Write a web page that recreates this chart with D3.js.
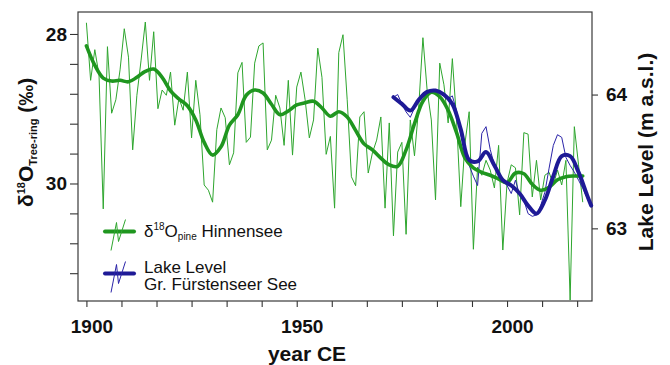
<!DOCTYPE html>
<html>
<head>
<meta charset="utf-8">
<script src="https://cdn.jsdelivr.net/npm/d3@7"></script>
<style>
  body { margin: 0; background: #fff; }
  svg { font-family: "Liberation Sans", Arial, Helvetica, sans-serif; }
</style>
</head>
<body>
<div id="chart"></div>
<script>
// annual tree-ring d18O, Hinnensee pine (permil), first year 1900
const isoStart = 1900;
const isoValues = [
  27.85, 28.62, 28.21, 28.55, 30.34, 28.17, 29.06, 28.88, 28.48, 27.93,
  28.31, 29.55, 28.82, 28.35, 27.84, 28.62, 27.97, 29.00, 28.75, 28.82,
  28.51, 29.22, 28.86, 29.02, 28.51, 29.39, 28.62, 29.08, 30.02, 30.09,
  30.25, 29.28, 28.99, 29.12, 29.75, 29.59, 28.52, 28.38, 29.45, 29.38,
  28.39, 28.16, 28.12, 29.55, 29.42, 28.82, 28.99, 29.49, 28.62, 29.62,
  28.71, 28.51, 28.88, 29.39, 29.15, 28.19, 28.58, 29.61, 29.37, 30.33,
  28.25, 28.01, 28.88, 29.91, 30.03, 29.11, 29.04, 29.86, 29.59, 29.42,
  29.11, 30.33, 29.19, 30.70, 29.58, 29.45, 30.68, 29.15, 29.63, 28.98,
  28.05, 28.75, 29.15, 30.22, 28.39, 28.68, 29.19, 28.33, 29.15, 30.31,
  29.46, 29.04, 30.88, 29.78, 29.89, 29.69, 29.82, 30.06, 29.49, 30.89,
  29.99, 29.75, 29.79, 30.42, 29.32, 29.34, 30.18, 29.69, 30.22, 29.89,
  29.85, 30.02, 29.82, 30.02, 29.69, 31.56, 29.24, 29.75, 30.25
];

// smoothed d18O curve
const isoSmoothYears = [1900, 1902, 1904, 1906, 1908, 1910, 1912, 1914, 1916, 1918,
  1920, 1922, 1924, 1926, 1928, 1930, 1932, 1934, 1936, 1938,
  1940, 1942, 1944, 1946, 1948, 1950, 1952, 1954, 1956, 1958,
  1960, 1962, 1964, 1966, 1968, 1970, 1972, 1974, 1976, 1978,
  1980, 1982, 1984, 1986, 1988, 1990, 1992, 1994, 1996, 1998,
  2000, 2002, 2004, 2006, 2008, 2010, 2012, 2014, 2016, 2018];
const isoSmoothValues = [28.16, 28.42, 28.59, 28.63, 28.62, 28.64, 28.58, 28.50, 28.47, 28.58,
  28.76, 28.87, 28.96, 29.15, 29.45, 29.62, 29.51, 29.22, 29.08, 28.82,
  28.75, 28.79, 28.94, 29.08, 29.03, 28.95, 28.92, 28.90, 28.99, 29.10,
  29.04, 29.11, 29.29, 29.47, 29.55, 29.66, 29.75, 29.77, 29.55, 29.20,
  28.90, 28.78, 28.84, 29.02, 29.32, 29.66, 29.79, 29.85, 29.89, 29.94,
  29.99, 29.86, 29.87, 30.01, 30.09, 30.05, 29.95, 29.91, 29.90, 29.90];

// annual lake level, Gr. Fuerstenseer See (m a.s.l.), first year 1973
const lakeStart = 1973;
const lakeValues = [
  63.98, 64.00, 63.93, 63.87, 63.83, 63.90, 63.96, 64.01, 64.02, 64.03,
  64.03, 64.02, 64.00, 63.97, 63.99, 63.88, 63.70, 63.59, 63.47, 63.39,
  63.32, 63.71, 63.76, 63.59, 63.47, 63.40, 63.36, 63.32, 63.26, 63.36,
  63.25, 63.21, 63.11, 63.09, 63.10, 63.17, 63.27, 63.45, 63.62, 63.70,
  63.68, 63.53, 63.47, 63.42, 63.36, 63.30, 63.23, 63.16
];

// smoothed lake level
const lakeSmoothYears = [1973, 1975, 1977, 1979, 1981, 1983, 1985, 1987, 1989, 1991,
  1993, 1995, 1997, 1999, 2001, 2003, 2005, 2007, 2009, 2011,
  2013, 2015, 2017, 2019, 2020];
const lakeSmoothValues = [63.98, 63.93, 63.88, 63.96, 64.02, 64.03, 64.00, 63.93, 63.74, 63.51,
  63.50, 63.57, 63.47, 63.36, 63.32, 63.26, 63.17, 63.11, 63.21, 63.39,
  63.54, 63.54, 63.42, 63.25, 63.17];

// axis ticks
const yearLabels = [1900, 1950, 2000];
const yearMinorPerSpan = 6;
const isoTicks = [28, 28.4, 28.8, 29.2, 29.6, 30, 30.4, 30.8, 31.2];
const isoLabels = [28, 30];
const lakeTicks = [63, 64];

const greenThin = '#2ea62e', greenThick = '#1f961f';
const blueThin = '#2a23a8', blueThick = '#1e1a96';

const width = 670, height = 365;
const margin = {top: 12, right: 78, bottom: 64, left: 78};
const innerW = width - margin.left - margin.right;
const innerH = height - margin.top - margin.bottom;

const svg = d3.select('#chart').append('svg')
  .attr('width', width)
  .attr('height', height);

const chart = svg.append('g')
  .attr('transform', `translate(${margin.left},${margin.top})`);

const x = d3.scaleLinear().domain([1898, 2020.2]).range([0, innerW]);
const yIso = d3.scaleLinear().domain([27.706, 31.572]).range([0, innerH]);
const yLake = d3.scaleLinear().domain([64.617, 62.457]).range([0, innerH]);

// axes
const span = yearLabels[1] - yearLabels[0];
const yearTicks = d3.range(0, 15).map(i => yearLabels[0] + i * span / yearMinorPerSpan)
  .filter(d => d <= x.domain()[1]);

const xAxis = d3.axisBottom(x)
  .tickValues(yearTicks)
  .tickSize(6)
  .tickSizeOuter(0)
  .tickPadding(13)
  .tickFormat(d => yearLabels.some(v => Math.abs(v - d) < 1e-6) ? d3.format('d')(Math.round(d)) : '');

const yAxisL = d3.axisLeft(yIso)
  .tickValues(isoTicks)
  .tickSize(8)
  .tickSizeOuter(0)
  .tickPadding(3)
  .tickFormat(d => isoLabels.includes(d) ? d : '');

const yAxisR = d3.axisRight(yLake)
  .tickValues(lakeTicks)
  .tickSize(6)
  .tickSizeOuter(0)
  .tickPadding(8)
  .tickFormat(d3.format('d'));

const xg = chart.append('g').attr('transform', `translate(0,${innerH})`).call(xAxis);
const lg = chart.append('g').call(yAxisL);
const rg = chart.append('g').attr('transform', `translate(${innerW},0)`).call(yAxisR);

[xg, lg, rg].forEach(g => {
  g.select('.domain').remove();
  g.selectAll('line').attr('stroke', '#333').attr('stroke-width', 1.1);
  g.selectAll('text')
    .attr('fill', '#111')
    .style('font-size', '19px')
    .style('font-weight', 'bold');
});
xg.selectAll('text').attr('dx', 5);

// frame
chart.append('rect')
  .attr('width', innerW)
  .attr('height', innerH)
  .attr('fill', 'none')
  .attr('stroke', '#3a3a3a')
  .attr('stroke-width', 1.2);

// lines
const isoData = isoValues.map((v, i) => ({year: isoStart + i, v}));
const isoSmooth = isoSmoothYears.map((yr, i) => ({year: yr, v: isoSmoothValues[i]}));
const lakeData = lakeValues.map((v, i) => ({year: lakeStart + i, v}));
const lakeSmooth = lakeSmoothYears.map((yr, i) => ({year: yr, v: lakeSmoothValues[i]}));

const lineIso = d3.line().x(d => x(d.year)).y(d => yIso(d.v));
const lineLake = d3.line().x(d => x(d.year)).y(d => yLake(d.v));
const smoothIso = d3.line().x(d => x(d.year)).y(d => yIso(d.v)).curve(d3.curveCatmullRom.alpha(0.5));
const smoothLake = d3.line().x(d => x(d.year)).y(d => yLake(d.v)).curve(d3.curveCatmullRom.alpha(0.5));

chart.append('path').datum(isoData)
  .attr('d', lineIso).attr('fill', 'none')
  .attr('stroke', greenThin).attr('stroke-width', 1);

chart.append('path').datum(lakeData)
  .attr('d', lineLake).attr('fill', 'none')
  .attr('stroke', blueThin).attr('stroke-width', 1);

chart.append('path').datum(isoSmooth)
  .attr('d', smoothIso).attr('fill', 'none')
  .attr('stroke', greenThick).attr('stroke-width', 3.6)
  .attr('stroke-linejoin', 'round').attr('stroke-linecap', 'round');

chart.append('path').datum(lakeSmooth)
  .attr('d', smoothLake).attr('fill', 'none')
  .attr('stroke', blueThick).attr('stroke-width', 4)
  .attr('stroke-linejoin', 'round').attr('stroke-linecap', 'round');

// axis titles
svg.append('text')
  .attr('x', 307)
  .attr('y', 361)
  .attr('text-anchor', 'middle')
  .style('font-size', '21px')
  .style('font-weight', 'bold')
  .attr('fill', '#111')
  .text('year CE');

svg.append('text')
  .attr('transform', 'translate(653,152) rotate(-90)')
  .attr('text-anchor', 'middle')
  .style('font-size', '21px')
  .style('font-weight', 'bold')
  .attr('fill', '#111')
  .text('Lake Level (m a.s.l.)');

const yTitle = svg.append('text')
  .attr('transform', 'translate(33,207) rotate(-90)')
  .attr('text-anchor', 'start')
  .style('font-weight', 'bold')
  .style('font-size', '21px')
  .attr('fill', '#111');
yTitle.append('tspan').text('δ');
yTitle.append('tspan').attr('dy', -8).style('font-size', '11px').text('18');
yTitle.append('tspan').attr('dy', 8).text('O');
yTitle.append('tspan').attr('dy', 4).style('font-size', '11px').text('Tree-ring');
yTitle.append('tspan').attr('dy', -4).text('\u00a0(‰)');

// legend
const legend = svg.append('g');
const legendItems = [
  {thin: greenThin, thick: greenThick, y: 231.5},
  {thin: blueThin, thick: blueThick, y: 273.5}
];
const zig = [[6, 19], [11.5, -9], [13.5, 10], [20.5, -12]];
legendItems.forEach(it => {
  legend.append('line')
    .attr('x1', 105).attr('x2', 134)
    .attr('y1', it.y).attr('y2', it.y)
    .attr('stroke', it.thick).attr('stroke-width', 4)
    .attr('stroke-linecap', 'round');
  legend.append('path')
    .attr('d', d3.line()(zig.map(p => [105 + p[0], it.y + p[1]])))
    .attr('fill', 'none')
    .attr('stroke', it.thin).attr('stroke-width', 1);
});

const l1 = legend.append('text')
  .attr('x', 144).attr('y', 237)
  .style('font-size', '17px')
  .attr('fill', '#111');
l1.append('tspan').text('δ');
l1.append('tspan').attr('dy', -7).style('font-size', '10px').text('18');
l1.append('tspan').attr('dy', 7).text('O');
l1.append('tspan').attr('dy', 3).style('font-size', '10px').text('pine');
l1.append('tspan').attr('dy', -3).text(' Hinnensee');

legend.append('text')
  .attr('x', 144).attr('y', 272.5)
  .style('font-size', '17px')
  .attr('fill', '#111')
  .text('Lake Level');
legend.append('text')
  .attr('x', 144).attr('y', 290)
  .style('font-size', '17px')
  .attr('fill', '#111')
  .text('Gr. Fürstenseer See');
</script>
</body>
</html>
